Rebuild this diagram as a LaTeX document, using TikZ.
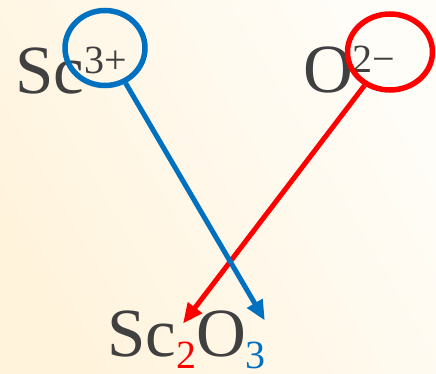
\documentclass[tikz,border=0pt]{standalone}
\usepackage{fontspec}
\setmainfont{Liberation Serif}
\usetikzlibrary{arrows.meta,positioning,shapes.geometric}
\definecolor{ionblue}{HTML}{0070C0}
\definecolor{ionred}{HTML}{FF0000}
\definecolor{symgray}{HTML}{404040}
\definecolor{bgwarm}{HTML}{FFF3DC}
\definecolor{bglight}{HTML}{FFFDF8}
\begin{document}
\begin{tikzpicture}[x=1pt,y=-1pt,
    sym/.style={inner sep=0pt,outer sep=0pt,text=symgray,anchor=base west,font=\fontsize{69}{69}\selectfont},
    chg/.style={inner sep=0pt,outer sep=0pt,anchor=base west,font=\fontsize{40}{40}\selectfont},
    ring/.style={ellipse,draw=#1,line width=5.5pt,inner sep=0pt},
    link/.style={draw=#1,line width=5pt,-{Triangle[length=20pt,width=17pt]}}]
  \shade[bottom color=bgwarm,top color=bglight,shading angle=-60] (0,0) rectangle (436,374);
  \useasboundingbox (0,0) rectangle (436,374);
  \node[sym] (sc) at (15,94) {Sc};
  \node[chg,text=symgray] (scq) at ([yshift=20pt]sc.base east) {3+};
  \node[sym] (ox) at (303,93) {O};
  \node[chg,text=symgray] (oxq) at ([yshift=20pt]ox.base east) {2−};
  \node[sym] (fsc) at (107,356) {Sc};
  \node[chg,text=ionred] (fsub2) at ([yshift=-12pt]fsc.base east) {2};
  \node[sym] (fo) at (fsub2.base east |- fsc.base) {O};
  \node[chg,text=ionblue] (fsub3) at ([yshift=-12pt]fo.base east) {3};
  \node[ring=ionblue,minimum width=80pt,minimum height=75pt] (scring) at (105,48) {};
  \node[ring=ionred,minimum width=85pt,minimum height=76pt] (oxring) at (390,52) {};
  \draw[link=ionred] (oxring) -- ([xshift=-3pt,yshift=18pt]fsub2.north);
  \draw[link=ionblue] (scring) -- ([xshift=-1pt,yshift=21pt]fsub3.north east);
\end{tikzpicture}
\end{document}
